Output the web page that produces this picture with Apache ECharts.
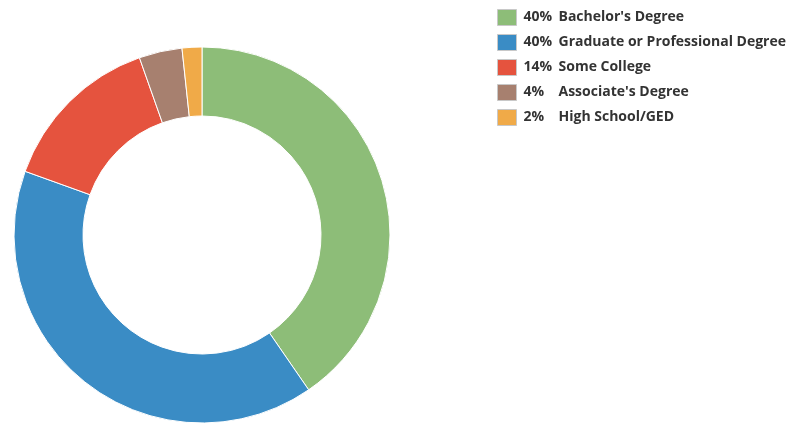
<!DOCTYPE html>
<html><head><meta charset="utf-8">
<script src="https://cdn.jsdelivr.net/npm/echarts@6/dist/echarts.min.js"></script>
<style>html,body{margin:0;padding:0;background:#fff}#c{width:799px;height:426px}</style>
</head><body><div id="c"></div>
<script>
const categories = ["Bachelor's Degree", "Graduate or Professional Degree", "Some College", "Associate's Degree", "High School/GED"];
const values = [40.4, 40.1, 14.1, 3.7, 1.7];
const pctLabels = ["40%", "40%", "14%", "4%", "2%"];
const colors = ['#8dbd78', '#3a8cc5', '#e5533e', '#a7806f', '#f0aa48'];

const chart = echarts.init(document.getElementById('c'), null, {renderer: 'canvas'});
chart.setOption({
  animation: false,
  color: colors,
  legend: {
    orient: 'vertical',
    left: 497, top: 9,
    padding: 0,
    itemWidth: 19, itemHeight: 16, itemGap: 8,
    icon: 'rect',
    itemStyle: {borderColor: '#c8c8c8', borderWidth: 1},
    data: categories,
    formatter: function (name) {
      const i = categories.indexOf(name);
      return '{p|' + pctLabels[i] + '}{n|' + name + '}';
    },
    textStyle: {
      rich: {
        p: {width: 35, fontFamily: 'Open Sans', fontWeight: 'bold', fontSize: 14, lineHeight: 16, color: '#333', padding: [0,0,0,2]},
        n: {fontFamily: 'Open Sans', fontWeight: 'bold', fontSize: 14, lineHeight: 16, color: '#333'}
      }
    }
  },
  series: [{
    type: 'pie',
    center: [202, 235],
    radius: [119, 188],
    startAngle: 90,
    clockwise: true,
    label: {show: false},
    labelLine: {show: false},
    itemStyle: {borderColor: '#fff', borderWidth: 1},
    emphasis: {disabled: true},
    data: categories.map((c, i) => ({name: c, value: values[i]}))
  }]
});
</script></body></html>
